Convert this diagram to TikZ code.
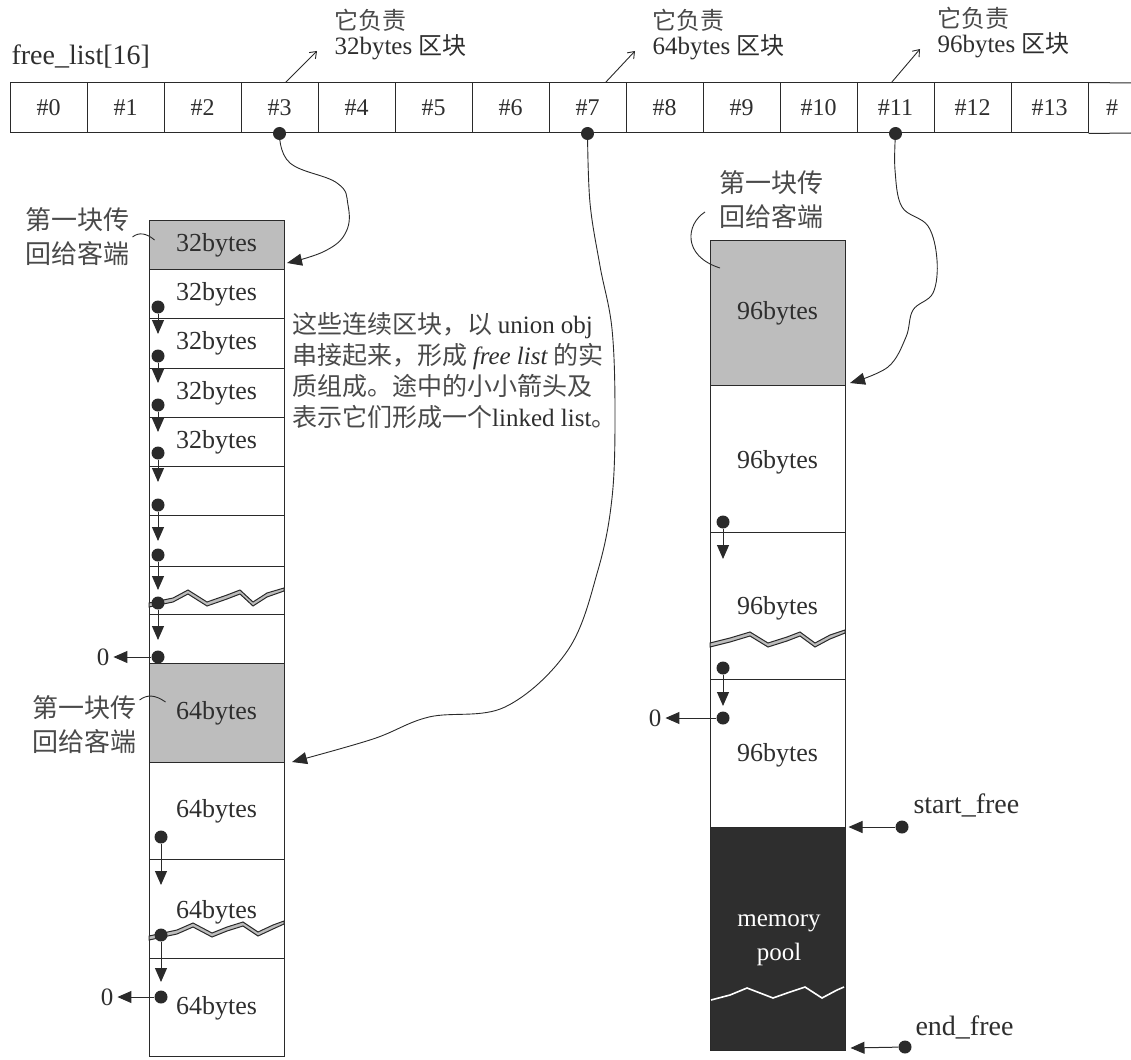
\documentclass[tikz,border=0pt]{standalone}
\usepackage{fontspec}
\setmainfont{Liberation Serif}
\newfontfamily\cjk{Noto Sans CJK SC}
\usetikzlibrary{arrows.meta}
\definecolor{ink}{HTML}{2A2A2A}
\definecolor{txt}{HTML}{2E2E2E}
\definecolor{cjkc}{HTML}{4A4A4A}
\definecolor{shade}{HTML}{BDBDBD}
\definecolor{poolc}{HTML}{2E2E2E}
\begin{document}
\begin{tikzpicture}[x=1pt,y=-1pt,
  every node/.style={text=txt, font=\fontsize{26}{30}\selectfont},
  cell/.style={draw=ink, line width=1pt, minimum width=77pt, minimum height=50pt, inner sep=0pt, font=\fontsize{24}{28}\selectfont},
  blk/.style={draw=ink, line width=1pt, minimum width=135pt, inner sep=0pt, anchor=north},
  dot/.style={circle, fill=ink, minimum size=13pt, inner sep=0pt},
  link/.style={draw=ink, line width=1pt, -{Triangle[width=12pt,length=14pt]}},
  curv/.style={draw=ink, line width=0.9pt, -{Triangle[width=12pt,length=15pt]}},
  thinarr/.style={draw=ink, line width=0.9pt, -{Straight Barb[length=6pt,width=9pt]}},
  cjklab/.style={text=cjkc, align=center, font=\fontsize{26}{34}\selectfont\cjk},
  toplab/.style={anchor=west, font=\fontsize{25}{28}\selectfont},
  para/.style={anchor=base west, font=\fontsize{25}{30}\selectfont\cjk, text=cjkc, inner sep=0pt},
  zero/.style={font=\fontsize{25}{28}\selectfont, inner sep=4pt},
  tear/.style={fill=shade, draw=ink, line width=1pt}
]
\useasboundingbox (0,0) rectangle (1131,1059);

% ---------- free_list array ----------
\node[anchor=west, font=\fontsize{28}{30}\selectfont] (fl) at (8,57) {free\_list[16]};
\foreach \i in {0,...,13}{
  \node[cell] (c\i) at (48.5+77*\i,108) {\#\i};
}
\node[font=\fontsize{24}{28}\selectfont, anchor=west, inner sep=0pt] (c14) at (1106,108) {\#};
\draw[ink, line width=1pt] (c13.north east) -- (1131,83);
\draw[ink, line width=1pt] (c13.south east) -- (1131,133);

\node[dot] (d3) at (c3.south) {};
\node[dot] (d7) at (c7.south) {};
\node[dot] (d11) at (c11.south) {};

% labels above array
\node[toplab, font=\fontsize{24}{28}\selectfont\cjk, text=cjkc] (a3) at (331,20) {它负责};
\node[toplab] (b3) at (331,47) {32bytes {\cjk\fontsize{24}{28}\selectfont 区块}};
\node[toplab, font=\fontsize{24}{28}\selectfont\cjk, text=cjkc] (a7) at (649,20) {它负责};
\node[toplab] (b7) at (649,47) {64bytes {\cjk\fontsize{24}{28}\selectfont 区块}};
\node[toplab, font=\fontsize{24}{28}\selectfont\cjk, text=cjkc] (a11) at (934,18) {它负责};
\node[toplab] (b11) at (934,45) {96bytes {\cjk\fontsize{24}{28}\selectfont 区块}};
\draw[thinarr] ([xshift=6pt]c3.north) -- ([xshift=-14pt,yshift=-4pt]b3.west);
\draw[thinarr] ([xshift=18pt]c7.north) -- ([xshift=-14pt,yshift=-4pt]b7.west);
\draw[thinarr] ([xshift=-4pt]c11.north) -- ([xshift=-14pt,yshift=-4pt]b11.west);

% ---------- left column ----------
\node[blk, fill=shade, minimum height=49pt] (L0) at (216.5,220) {32bytes};
\node[blk, minimum height=49pt] (L1) at (216.5,269) {32bytes};
\node[blk, minimum height=50pt] (L2) at (216.5,318) {32bytes};
\node[blk, minimum height=49pt] (L3) at (216.5,368) {32bytes};
\node[blk, minimum height=49pt] (L4) at (216.5,417) {32bytes};
\node[blk, minimum height=49pt] (L5) at (216.5,466) {};
\node[blk, minimum height=51pt] (L6) at (216.5,515) {};
\node[blk, minimum height=48pt] (L7) at (216.5,566) {};
\node[blk, minimum height=49pt] (L8) at (216.5,614) {};
\node[blk, fill=shade, minimum height=99pt] (L9) at (216.5,663) {64bytes};
\node[blk, minimum height=97pt] (L10) at (216.5,762) {64bytes};
\node[blk, minimum height=99pt] (L11) at (216.5,859) {};
\node[blk, minimum height=98pt] (L12) at (216.5,958) {};
\node (L11t) at (216.5,912) {64bytes};
\node (L12t) at (216.5,1008) {64bytes};

% torn edges left
\draw[tear] (149,603) -- (173,598) -- (188,590) -- (207,602) -- (227,595) -- (240,590) -- (253,602) -- (267,593) -- (284,588)
  -- (284,591) -- (267,597) -- (253,606) -- (240,594) -- (227,599) -- (207,606) -- (188,594) -- (173,602) -- (149,607) -- cycle;
\draw[tear] (149,936) -- (177,930) -- (193,923) -- (212,933) -- (227,927) -- (243,922) -- (258,932) -- (273,925) -- (284,921)
  -- (284,924) -- (273,929) -- (258,936) -- (243,926) -- (227,931) -- (212,937) -- (193,927) -- (177,934) -- (149,940) -- cycle;

% links left
\foreach \n/\y/\t in {1/307/334, 2/356/383, 3/405/432, 4/453/482, 5/505/541, 6/555/590, 7/603/640}{
  \node[dot] (ld\n) at (158,\y) {};
  \coordinate (lt\n) at (158,\t);
  \draw[link] (ld\n) -- (lt\n);
}
\node[dot] (ld8) at (158,657) {};
\node[zero] (z1) at (103,657) {0};
\draw[link] (ld8) -- (z1.east);
\node[dot] (ld9) at (161,837) {};
\coordinate (lt9) at (161,885);
\draw[link] (ld9) -- (lt9);
\node[dot] (ld10) at (161,935) {};
\coordinate (lt10) at (161,982);
\draw[link] (ld10) -- (lt10);
\node[dot] (ld11) at (161,997) {};
\node[zero] (z2) at (107,997) {0};
\draw[link] (ld11) -- (z2.east);

% left labels
\node[cjklab] (lab1) at (77,237) {第一块传\\回给客端};
\draw[ink, line width=0.9pt] (lab1.east) .. controls ([xshift=6pt,yshift=5pt]lab1.east) and ([xshift=14pt,yshift=4pt]lab1.east) .. ([xshift=22pt,yshift=-3pt]lab1.east);
\node[cjklab] (lab2) at (84,725) {第一块传\\回给客端};
\draw[ink, line width=0.9pt] ([yshift=25pt]lab2.east) .. controls ([xshift=8pt,yshift=31pt]lab2.east) and ([xshift=16pt,yshift=30pt]lab2.east) .. ([xshift=26pt,yshift=23pt]lab2.east);

% paragraph
\node[para] (p1) at (292,333) {这些连续区块，以 {\rmfamily\fontsize{25}{30}\selectfont\color{txt}union obj}};
\node[para] (p2) at (292,364) {串接起来，形成 {\rmfamily\itshape\fontsize{25}{30}\selectfont\color{txt}free list} 的实};
\node[para] (p3) at (292,395) {质组成。途中的小小箭头及};
\node[para] (p4) at (292,426) {表示它们形成一个{\rmfamily\fontsize{25}{30}\selectfont\color{txt}linked list}。};

% ---------- right column ----------
\node[blk, fill=shade, minimum height=145pt] (R0) at (777.5,240) {96bytes};
\node[blk, minimum height=147pt] (R1) at (777.5,385) {};
\node[blk, minimum height=147pt] (R2) at (777.5,532) {};
\node[blk, minimum height=148pt] (R3) at (777.5,679) {};
\node[blk, fill=poolc, minimum height=223pt] (R4) at (777.5,827) {};
\node (R1t) at (777.5,462) {96bytes};
\node (R2t) at (777.5,608) {96bytes};
\node (R3t) at (777.5,755) {96bytes};
\node[text=white, align=center, font=\fontsize{25}{34}\selectfont] (R4t) at (779,940) {memory\\pool};

\draw[tear] (710,643) -- (730,638) -- (750,632) -- (768,643) -- (787,637) -- (800,632) -- (815,643) -- (830,635) -- (845,630)
  -- (845,633) -- (830,639) -- (815,647) -- (800,636) -- (787,641) -- (768,647) -- (750,636) -- (730,642) -- (710,647) -- cycle;
\draw[white, line width=1.6pt] (711,1000) -- (730,995) -- (747,988) -- (773,998) -- (790,992) -- (805,987) -- (822,998) -- (837,990) -- (844,987);

\node[dot] (rd1) at (723,522) {};
\coordinate (rt1) at (723,559);
\draw[link] (rd1) -- (rt1);
\node[dot] (rd2) at (723,668) {};
\coordinate (rt2) at (723,706);
\draw[link] (rd2) -- (rt2);
\node[dot] (rd3) at (723,718) {};
\node[zero] (z3) at (655,718) {0};
\draw[link] (rd3) -- (z3.east);

\node[cjklab] (lab3) at (771,200) {第一块传\\回给客端};
\coordinate (h3) at (720,268);
\draw[ink, line width=0.9pt] (705,212) .. controls (686,224) and (682,256) .. (h3);

\node[anchor=west, font=\fontsize{28}{30}\selectfont] (sf) at (910,805) {start\_free};
\node[dot] (sfd) at (902,827) {};
\draw[link] (sfd) -- ([xshift=3pt]R4.north east);
\node[anchor=west, font=\fontsize{28}{30}\selectfont] (ef) at (912,1027) {end\_free};
\node[dot] (efd) at (905,1047) {};
\draw[link] (efd) -- ([xshift=5pt,yshift=3pt]R4.south east);

% ---------- long curved pointers ----------
\coordinate (t3) at (287,263);
\draw[curv] plot[smooth, tension=0.7] coordinates {(d3.center) (290,163) (337,183) (348,205) (346,232) (325,251) (t3)};
\coordinate (t7) at (292,762);
\draw[curv] plot[smooth, tension=0.6] coordinates {(d7.center) (590,203) (600,266) (612,329) (615,414) (612,498) (598,570) (568,650) (505,707) (429,717) (373,739) (t7)};
\coordinate (t11) at (850,383);
\draw[curv] plot[smooth, tension=0.6] coordinates {(d11.center) (895,170) (902,207) (928,226) (937,260) (933,293) (913,310) (906,337) (888,367) (t11)};
\end{tikzpicture}
\end{document}
